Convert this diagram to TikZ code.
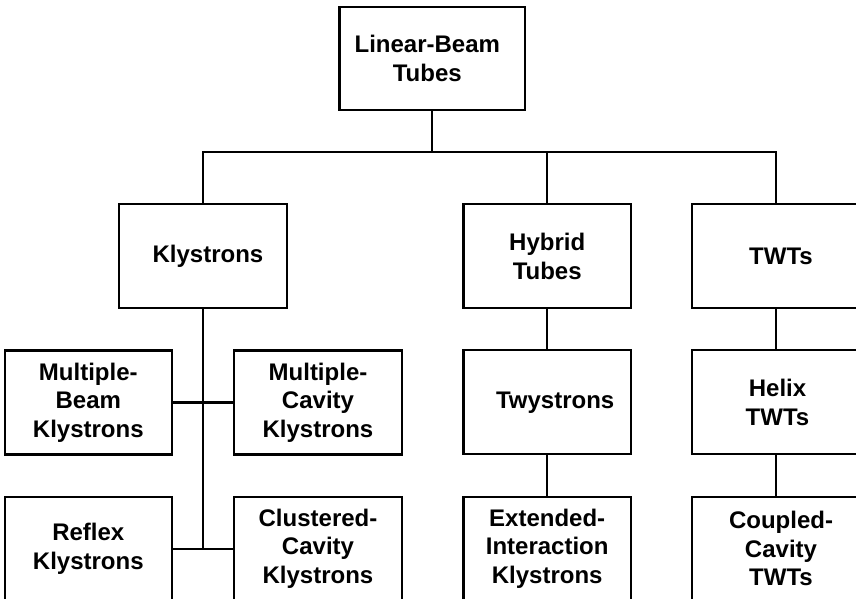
\documentclass[tikz,border=0pt]{standalone}
\usepackage{fontspec}
\setmainfont{Liberation Sans}
\begin{document}
\begin{tikzpicture}[x=1pt,y=-1pt,
  box/.style={draw, line width=2.1pt, rectangle, minimum width=167.5pt,
    minimum height=104pt, inner sep=0pt, align=center,
    font=\fontsize{24}{28.3}\selectfont\bfseries},
  wire/.style={line width=2.1pt}]
\useasboundingbox (0,0) rectangle (856,599);
\clip (0,0) rectangle (856,599);

% root
\node[box, minimum width=185.7pt, minimum height=103.3pt] (lbt) at (432.3,58.3)
  {\hspace*{-10pt}Linear-Beam\\\hspace*{-10pt}Tubes};

% second level
\node[box] (kly) at (203,256.3) {\hspace*{10pt}Klystrons};
\node[box] (hyb) at (547.2,256.3) {Hybrid\\Tubes};
\node[box] (twt) at (776,256.3) {\hspace*{10pt}TWTs};

% third level
\node[box] (mbk) at (88.3,402.5) {Multiple-\\Beam\\Klystrons};
\node[box] (mck) at (318,402.5) {Multiple-\\Cavity\\Klystrons};
\node[box] (twy) at (547.2,402.3) {\hspace*{16pt}Twystrons};
\node[box] (hel) at (776,402.3) {\hspace*{3pt}Helix\\\hspace*{3pt}TWTs};

% fourth level
\node[box] (rfk) at (88.3,548.7) {Reflex\\Klystrons};
\node[box] (cck) at (318,548.7) {Clustered-\\Cavity\\Klystrons};
\node[box] (eik) at (547.2,548.7) {Extended-\\Interaction\\Klystrons};
\node[box] (cct) at (776,548.7) {\hspace*{10pt}Coupled-\\\hspace*{10pt}Cavity\\\hspace*{10pt}TWTs};

% connectors
\coordinate (bus) at (0,152.3);
\draw[wire] (lbt.south) -- (lbt.south |- bus);
\draw[wire] (kly.north) |- (twt.north |- bus) -- (twt.north);
\draw[wire] (hyb.north) -- (hyb.north |- bus);
\draw[wire] (kly.south) -- (kly.south |- rfk.east);
\draw[wire] (mbk.east) -- (mck.west);
\draw[wire] (rfk.east) -- (cck.west);
\draw[wire] (hyb.south) -- (twy.north);
\draw[wire] (twy.south) -- (eik.north);
\draw[wire] (twt.south) -- (hel.north);
\draw[wire] (hel.south) -- (cct.north);
\end{tikzpicture}
\end{document}
